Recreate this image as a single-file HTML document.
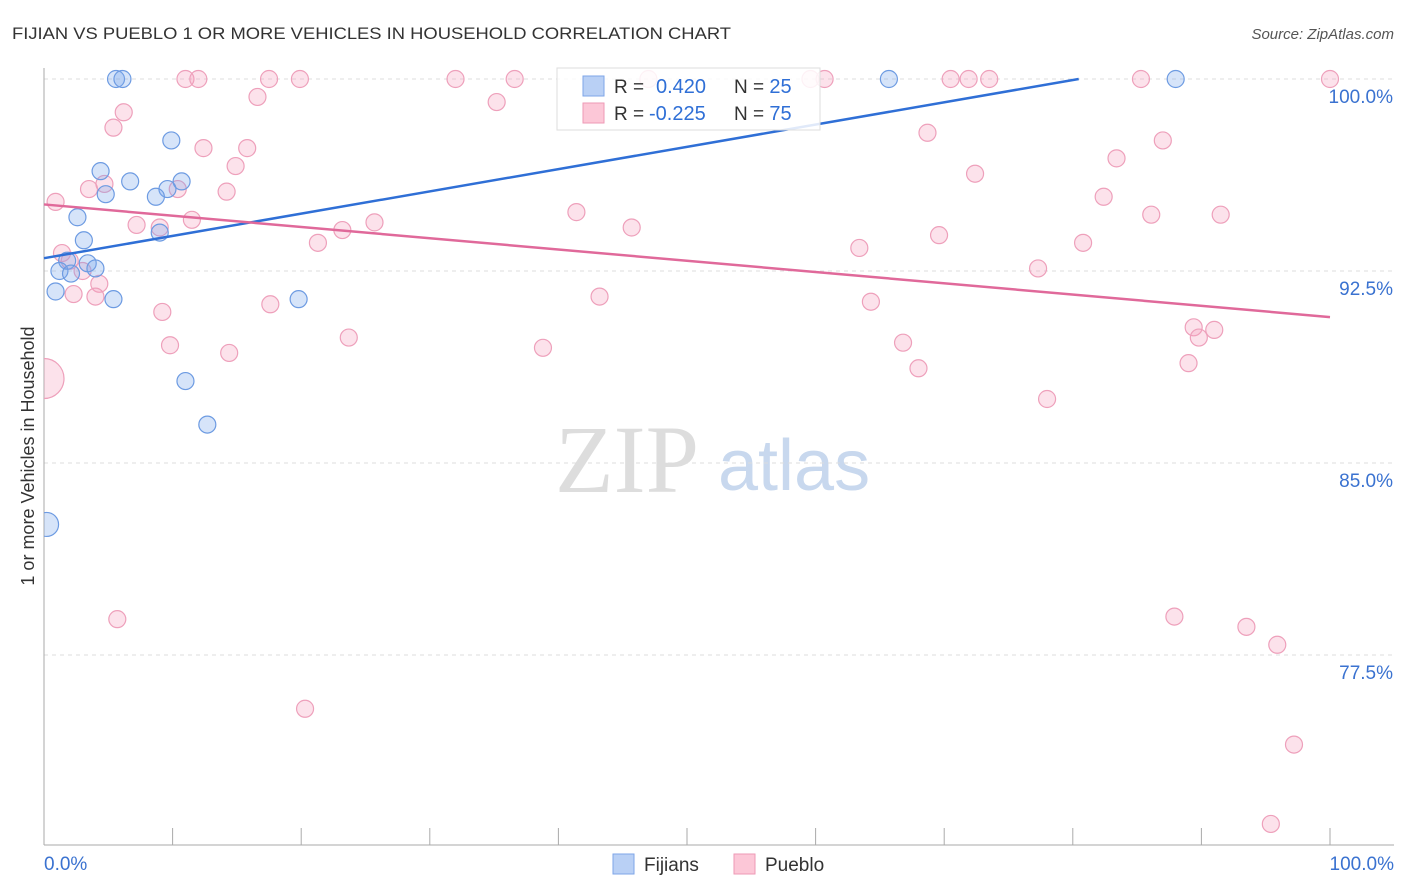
<!DOCTYPE html>
<html><head><meta charset="utf-8">
<style>
body{margin:0;background:#fff;font-family:"Liberation Sans",sans-serif;}
#wrap{position:relative;width:1406px;height:892px;overflow:hidden;}
</style></head>
<body>
<div id="wrap">
<svg id="svg" width="1406" height="892" xmlns="http://www.w3.org/2000/svg">
<defs><clipPath id="plotclip"><rect x="44" y="55" width="1360" height="790"/></clipPath></defs>
<text x="12" y="39" font-size="17" fill="#333" textLength="719" lengthAdjust="spacingAndGlyphs">FIJIAN VS PUEBLO 1 OR MORE VEHICLES IN HOUSEHOLD CORRELATION CHART</text>
<text x="1394" y="39" font-size="15" fill="#555" font-style="italic" text-anchor="end">Source: ZipAtlas.com</text>
<text transform="translate(34,456) rotate(-90)" font-size="18" fill="#333" text-anchor="middle">1 or more Vehicles in Household</text>
<text x="555" y="492" font-size="96" fill="#ddd" font-family="Liberation Serif,serif">ZIP</text>
<text x="718" y="490" font-size="72" fill="#c8d8ee">atlas</text>
<g id="grid"></g><g id="pts" clip-path="url(#plotclip)"></g><g id="lines"></g>
<g>
<rect x="557" y="68" width="263" height="62" fill="#fff" fill-opacity="0.85" stroke="#ddd"/>
<rect x="583" y="76" width="21" height="20" fill="#b9d0f5" stroke="#7ea6e8"/>
<text x="614" y="93" font-size="19" fill="#333">R = <tspan fill="#2f6fd6" x="656" font-size="20">0.420</tspan><tspan x="734" fill="#333">N = </tspan><tspan fill="#2f6fd6" font-size="20">25</tspan></text>
<rect x="583" y="103" width="21" height="20" fill="#fcc7d7" stroke="#ee9ab6"/>
<text x="614" y="120" font-size="19" fill="#333">R = <tspan fill="#2f6fd6" x="649" font-size="20">-0.225</tspan><tspan x="734" fill="#333">N = </tspan><tspan fill="#2f6fd6" font-size="20">75</tspan></text>
</g>
<g>
<rect x="613" y="854" width="21" height="20" fill="#b9d0f5" stroke="#7ea6e8"/>
<text x="644" y="871" font-size="19" fill="#333">Fijians</text>
<rect x="734" y="854" width="21" height="20" fill="#fcc7d7" stroke="#ee9ab6"/>
<text x="765" y="871" font-size="19" fill="#333">Pueblo</text>
</g>
</svg>
</div>
<script>
const fijX=[5.6,6.1,65.7,88.0,9.9,4.4,6.7,10.7,9.6,8.7,4.8,2.6,9.0,3.1,1.8,3.4,4.0,1.2,2.1,0.9,5.4,19.8,11.0,12.7,0.2];
const fijY=[100,100,100,100,97.6,96.4,96.0,96.0,95.7,95.4,95.5,94.6,94.0,93.7,92.9,92.8,92.6,92.5,92.4,91.7,91.4,91.4,88.2,86.5,82.6];
const fijBig=[0,0,0,0,0,0,0,0,0,0,0,0,0,0,0,0,0,0,0,0,0,0,0,0,1];
const pueX=[11.0,12.0,17.5,19.9,32.0,36.6,47.0,59.6,60.7,70.5,71.9,73.5,85.3,100,6.2,5.4,16.6,35.2,12.4,15.8,14.9,14.2,3.5,4.7,10.4,0.9,11.5,7.2,9.0,23.2,25.7,41.4,45.7,21.3,1.4,2.0,3.0,4.3,2.3,4.0,17.6,9.2,9.8,14.4,23.7,38.8,43.2,63.4,64.3,66.8,68.0,69.6,68.7,72.4,83.4,87.0,82.4,86.1,91.5,80.8,77.3,89.4,89.8,91.0,89.0,78.0,0,5.7,20.3,87.9,93.5,95.9,97.2,95.4];
const pueY=[100,100,100,100,100,100,100,100,100,100,100,100,100,100,98.7,98.1,99.3,99.1,97.3,97.3,96.6,95.6,95.7,95.9,95.7,95.2,94.5,94.3,94.2,94.1,94.4,94.8,94.2,93.6,93.2,92.9,92.5,92.0,91.6,91.5,91.2,90.9,89.6,89.3,89.9,89.5,91.5,93.4,91.3,89.7,88.7,93.9,97.9,96.3,96.9,97.6,95.4,94.7,94.7,93.6,92.6,90.3,89.9,90.2,88.9,87.5,88.3,78.9,75.4,79.0,78.6,77.9,74.0,70.9];
const pueBig=pueX.map((v,i)=>i===66?1:0);
const trendFij=[93.0,101.7];   // y at x=0 and x=100
const trendPue=[95.1,90.7];
const yTicks=[100,92.5,85,77.5];
const yTickLabels=["100.0%","92.5%","85.0%","77.5%"];
const xTickLabels=["0.0%","100.0%"];
const NS="http://www.w3.org/2000/svg";
const sx=v=>44+v*12.86, sy=v=>79+(100-v)*25.6;
function mk(t,a,p){const e=document.createElementNS(NS,t);for(const k in a)e.setAttribute(k,a[k]);p.appendChild(e);return e;}
const grid=document.getElementById('grid');
yTicks.forEach((t,i)=>{
 const l=mk('line',{x1:44,x2:1394,y1:sy(t),y2:sy(t),stroke:'#ddd','stroke-dasharray':'4,4'},grid);
 
 
 const tx=mk('text',{x:1393,y:sy(t)+24,'font-size':19,fill:'#3a72d0','text-anchor':'end'},grid);
 tx.textContent=yTickLabels[i];
 
 
});
mk('line',{x1:44,x2:44,y1:68,y2:845,stroke:'#aaa'},grid);
mk('line',{x1:44,x2:1394,y1:845,y2:845,stroke:'#aaa'},grid);
for(let i=0;i<=10;i++){const x=sx(i*10);mk('line',{x1:x,x2:x,y1:828,y2:845,stroke:'#aaa'},grid);}
[[0,'start',44],[100,'end',1394]].forEach((d,i)=>{
 const tx=mk('text',{x:d[2],y:870,'font-size':19,fill:'#3a72d0','text-anchor':d[1]},grid);
 tx.textContent=xTickLabels[i];
 
 
});
const pts=document.getElementById('pts');
pueX.forEach((x,i)=>{
 const c=mk('circle',{cx:sx(x),cy:sy(pueY[i]),r:pueBig[i]?20:8.5,fill:'rgba(246,160,190,0.3)',stroke:'#eea0bb','stroke-width':1.2},pts);
 
 
});
fijX.forEach((x,i)=>{
 const c=mk('circle',{cx:sx(x),cy:sy(fijY[i]),r:fijBig[i]?12:8.5,fill:'rgba(120,165,235,0.3)',stroke:'#6d9be2','stroke-width':1.2},pts);
 
 
});
const lines=document.getElementById('lines');
const xe=(100-trendFij[0])/(trendFij[1]-trendFij[0])*100;
const xEnd=Math.min(100,xe);
const lf=mk('line',{x1:sx(0),y1:sy(trendFij[0]),x2:sx(xEnd),y2:sy(trendFij[0]+(trendFij[1]-trendFij[0])*xEnd/100),stroke:'#2f6fd6','stroke-width':2.5},lines);


const lp=mk('line',{x1:sx(0),y1:sy(trendPue[0]),x2:sx(100),y2:sy(trendPue[1]),stroke:'#e0699a','stroke-width':2.5},lines);


</script>
</body></html>
